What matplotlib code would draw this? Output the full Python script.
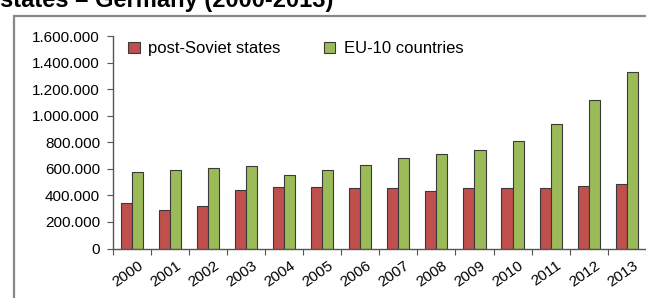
import matplotlib
matplotlib.use("Agg")
import matplotlib.pyplot as plt
import numpy as np
from matplotlib.patches import Rectangle
from matplotlib.ticker import FuncFormatter

plt.rcParams['font.family'] = ['Liberation Sans', 'DejaVu Sans']

years = ['2000', '2001', '2002', '2003', '2004', '2005', '2006',
         '2007', '2008', '2009', '2010', '2011', '2012', '2013']
post_soviet = [342000, 288000, 318000, 443000, 460000, 463000, 458000,
               458000, 433000, 454000, 454000, 458000, 469000, 484000]
eu10 = [573000, 593000, 608000, 623000, 556000, 588000, 631000,
        684000, 713000, 739000, 809000, 939000, 1115000, 1330000]
yticks = [0, 200000, 400000, 600000, 800000, 1000000, 1200000, 1400000, 1600000]

fig = plt.figure(figsize=(6.46, 2.98), dpi=100)

# outer chart frame (cut off at right/bottom like the reference)
fig.patches.append(Rectangle((14 / 646, -0.1), 1.0, (298 - 16) / 298 + 0.1,
                             transform=fig.transFigure, fill=False,
                             edgecolor='#888888', linewidth=1.6))
# title, mostly cropped off the top as in the source image
fig.text(0.0, 1 - 6.5 / 298, 'states \u2013 Germany (2000-2013)', fontsize=17,
         fontweight='bold', va='baseline', ha='left', color='black')

ax = fig.add_axes([113 / 646, 1 - 248.5 / 298, (645.7 - 113) / 646, (248.5 - 36) / 298])

x = np.arange(len(years))
w = 0.29
ax.bar(x - w / 2, post_soviet, w, color='#C0504D', edgecolor='#3a3a3a',
       linewidth=0.8, label='post-Soviet states')
ax.bar(x + w / 2, eu10, w, color='#9BBB59', edgecolor='#3a3a3a',
       linewidth=0.8, label='EU-10 countries')

ax.set_xlim(-0.5, len(years) - 0.5)
ax.set_ylim(0, 1600000)
ax.set_yticks(yticks)
ax.yaxis.set_major_formatter(FuncFormatter(lambda v, p: f'{int(v):,}'.replace(',', '.')))
ax.set_xticks(np.arange(len(years) + 1) - 0.5)
ax.set_xticklabels([])
ax.set_xticks(x + 0.15, minor=True)
ax.set_xticklabels(years, minor=True, rotation=35, ha='right',
                   rotation_mode='anchor', fontsize=11)
ax.tick_params(axis='x', which='minor', length=0, pad=7)
ax.tick_params(axis='x', which='major', length=4, color='#555555', direction='out')
ax.tick_params(axis='y', length=4.3, color='#555555', labelsize=11, pad=5)

for s in ['top', 'right']:
    ax.spines[s].set_visible(False)
for s in ['left', 'bottom']:
    ax.spines[s].set_color('#555555')
    ax.spines[s].set_linewidth(1.0)

ax.legend(loc='upper left', bbox_to_anchor=(0.0, 1.045), ncol=2, frameon=False,
          fontsize=12, handlelength=0.7, handleheight=0.7, handletextpad=0.5,
          columnspacing=2.6)

fig.savefig('out.png', dpi=100)
